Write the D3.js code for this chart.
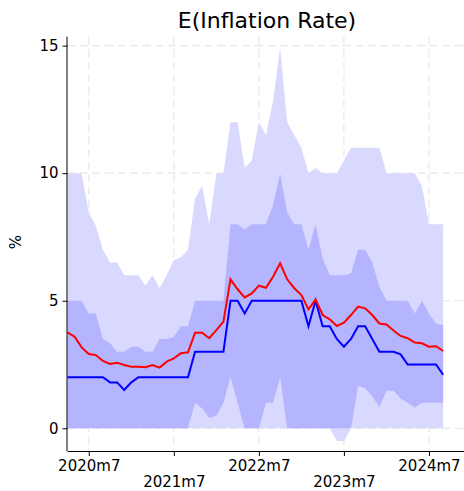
<!DOCTYPE html>
<html>
<head>
<meta charset="utf-8">
<script src="https://cdn.jsdelivr.net/npm/d3@7"></script>
<style>
  body { margin: 0; background: #fff; }
  text { font-family: "DejaVu Sans", sans-serif; fill: #000; }
</style>
</head>
<body>
<svg id="chart" width="464" height="491"></svg>
<script>
// Monthly survey expectations, 2020m4 .. 2024m9
const startYear = 2020, startMonth = 4, nMonths = 54;
const months = [];
for (let k = 0; k < nMonths; k++) {
  const m = startMonth - 1 + k;
  months.push(`${startYear + Math.floor(m / 12)}m${(m % 12) + 1}`);
}
const tickLabels = ["2020m7", "2021m7", "2022m7", "2023m7", "2024m7"];
const yTicks = [0, 5, 10, 15];

// Outer band (widest percentile range)
const outerHigh = [10, 10, 10, 8.45, 7.93, 7.0, 6.5, 6.5, 6.0, 6.0, 6.0, 5.6, 6.0, 5.5, 6.0, 6.6, 6.7, 7.0,
  9.0, 9.5, 8.0, 10.0, 10.0, 12.0, 12.0, 10.2, 10.5, 12.0, 11.5, 12.8, 14.93, 12.0, 11.5, 11.0, 10.0, 10.2,
  10.0, 10.0, 10.0, 10.5, 11.0, 11.0, 11.0, 11.0, 11.0, 10.0, 10.0, 10.0, 10.0, 10.0, 9.5, 8.0, 8.0, 8.0];
const outerLow = [0, 0, 0, 0, 0, 0, 0, 0, 0, 0, 0, 0, 0, 0, 0, 0, 0, 0,
  0, 0, 0, 0, 0, 0, 0, 0, 0, 0, 0, 0, 0, 0, 0, 0, 0, 0,
  0, 0, -0.5, -0.5, 0, 0, 0, 0, 0, 0, 0, 0, 0, 0, 0, 0, 0, 0];
// Inner band (interquartile range)
const innerHigh = [5, 5, 5, 4.5, 4.5, 3.5, 3.33, 3.0, 3.0, 3.2, 3.2, 3.0, 3.0, 3.5, 3.5, 3.58, 4.0, 4.0,
  5, 5, 5, 5, 5, 8, 8, 7.8, 8, 8, 8, 8.75, 10, 8.45, 8, 8, 7.0, 8.0,
  6.66, 6.0, 6.0, 6.0, 6.07, 7.0, 7.0, 6.5, 5.55, 5, 5, 5, 5, 4.5, 5, 4.5, 4.1, 4.05];
const innerLow = [0, 0, 0, 0, 0, 0, 0, 0, 0, 0, 0, 0, 0, 0, 0, 0, 0, 0,
  1.0, 0.78, 0.4, 0.5, 1.0, 2.0, 1.0, 0, 0, 0, 1.0, 1.0, 2.0, 0, 0, 0, 0, 0,
  0, 0, 0, 0, 0, 1.67, 1.57, 1.25, 0.83, 1.47, 1.47, 1.17, 1.0, 0.82, 1.0, 1.0, 1.0, 1.0];
// Median and mean expectation
const median = [2, 2, 2, 2, 2, 2, 1.8, 1.8, 1.5, 1.8, 2, 2, 2, 2, 2, 2, 2, 2,
  3, 3, 3, 3, 3, 5, 5, 4.5, 5, 5, 5, 5, 5, 5, 5, 5, 4, 5,
  4, 4, 3.5, 3.2, 3.5, 4, 4, 3.5, 3, 3, 3, 2.9, 2.5, 2.5, 2.5, 2.5, 2.5, 2.1];
const mean = [3.76, 3.59, 3.17, 2.91, 2.87, 2.64, 2.52, 2.57, 2.48, 2.41, 2.41, 2.39, 2.48, 2.38, 2.61, 2.74, 2.94, 2.98,
  3.75, 3.75, 3.53, 3.85, 4.18, 5.84, 5.45, 5.13, 5.29, 5.59, 5.51, 5.94, 6.47, 5.84, 5.49, 5.22, 4.66, 5.05,
  4.44, 4.27, 4.01, 4.14, 4.44, 4.77, 4.7, 4.44, 4.11, 4.07, 3.83, 3.62, 3.53, 3.36, 3.33, 3.2, 3.22, 3.03];

const svg = d3.select("#chart");
const plotLeft = 67.5, plotRight = 464.4, plotTop = 36.7, plotBottom = 451;

const x = d3.scaleLinear().domain([0, 56]).range([plotLeft, plotRight]);
const y = d3.scaleLinear().domain([-0.89, 15.35]).range([plotBottom, plotTop]);

const idx = d3.range(nMonths);
const tickIdx = tickLabels.map(l => months.indexOf(l));

// Gridlines
const grid = svg.append("g").attr("stroke", "#e8e8e8").attr("stroke-width", 1.2)
  .attr("stroke-dasharray", "8,4.5");
grid.selectAll("line.v").data(tickIdx).join("line").attr("class", "v")
  .attr("x1", d => x(d)).attr("x2", d => x(d)).attr("y1", plotTop).attr("y2", plotBottom);
grid.selectAll("line.h").data(yTicks).join("line").attr("class", "h")
  .attr("x1", plotLeft).attr("x2", plotRight).attr("y1", d => y(d)).attr("y2", d => y(d));

// Bands
const band = (lo, hi) => d3.area().x(i => x(i)).y0(i => y(lo[i])).y1(i => y(hi[i]));
svg.append("path").datum(idx).attr("fill", "#d9d9ff").attr("d", band(outerLow, outerHigh));
svg.append("path").datum(idx).attr("fill", "#b4b4ff").attr("d", band(innerLow, innerHigh));

// Lines
const line = arr => d3.line().x(i => x(i)).y(i => y(arr[i]));
svg.append("path").datum(idx).attr("fill", "none").attr("stroke", "#0000ff")
  .attr("stroke-width", 2).attr("d", line(median));
svg.append("path").datum(idx).attr("fill", "none").attr("stroke", "#ff0000")
  .attr("stroke-width", 2).attr("d", line(mean));

// Axes
const xAxis = d3.axisBottom(x).tickValues(tickIdx)
  .tickFormat((d, k) => tickLabels[k]).tickSize(5).tickPadding(3);
const gx = svg.append("g").attr("transform", `translate(0,${plotBottom})`).call(xAxis);
gx.select(".domain").attr("d", `M${plotLeft},0.5H${plotRight}`).attr("stroke", "#000");
gx.selectAll(".tick text").attr("font-size", 15).attr("font-family", "DejaVu Sans")
  .attr("y", (d, k) => k % 2 ? 25 : 9.5);

const yAxis = d3.axisLeft(y).tickValues(yTicks).tickSize(5).tickPadding(4);
const gy = svg.append("g").attr("transform", `translate(${plotLeft},0)`).call(yAxis);
gy.select(".domain").attr("d", `M-0.5,${plotTop}V${plotBottom}`).attr("stroke", "#000");
gy.selectAll(".tick text").attr("font-size", 15).attr("font-family", "DejaVu Sans");

// Labels
svg.append("text").attr("x", 267).attr("y", 27.5)
  .attr("text-anchor", "middle").attr("font-size", 22).text("E(Inflation Rate)");
svg.append("text").attr("transform", `translate(21,242) rotate(-90)`)
  .attr("text-anchor", "middle").attr("font-size", 15).text("%");
</script>
</body>
</html>
